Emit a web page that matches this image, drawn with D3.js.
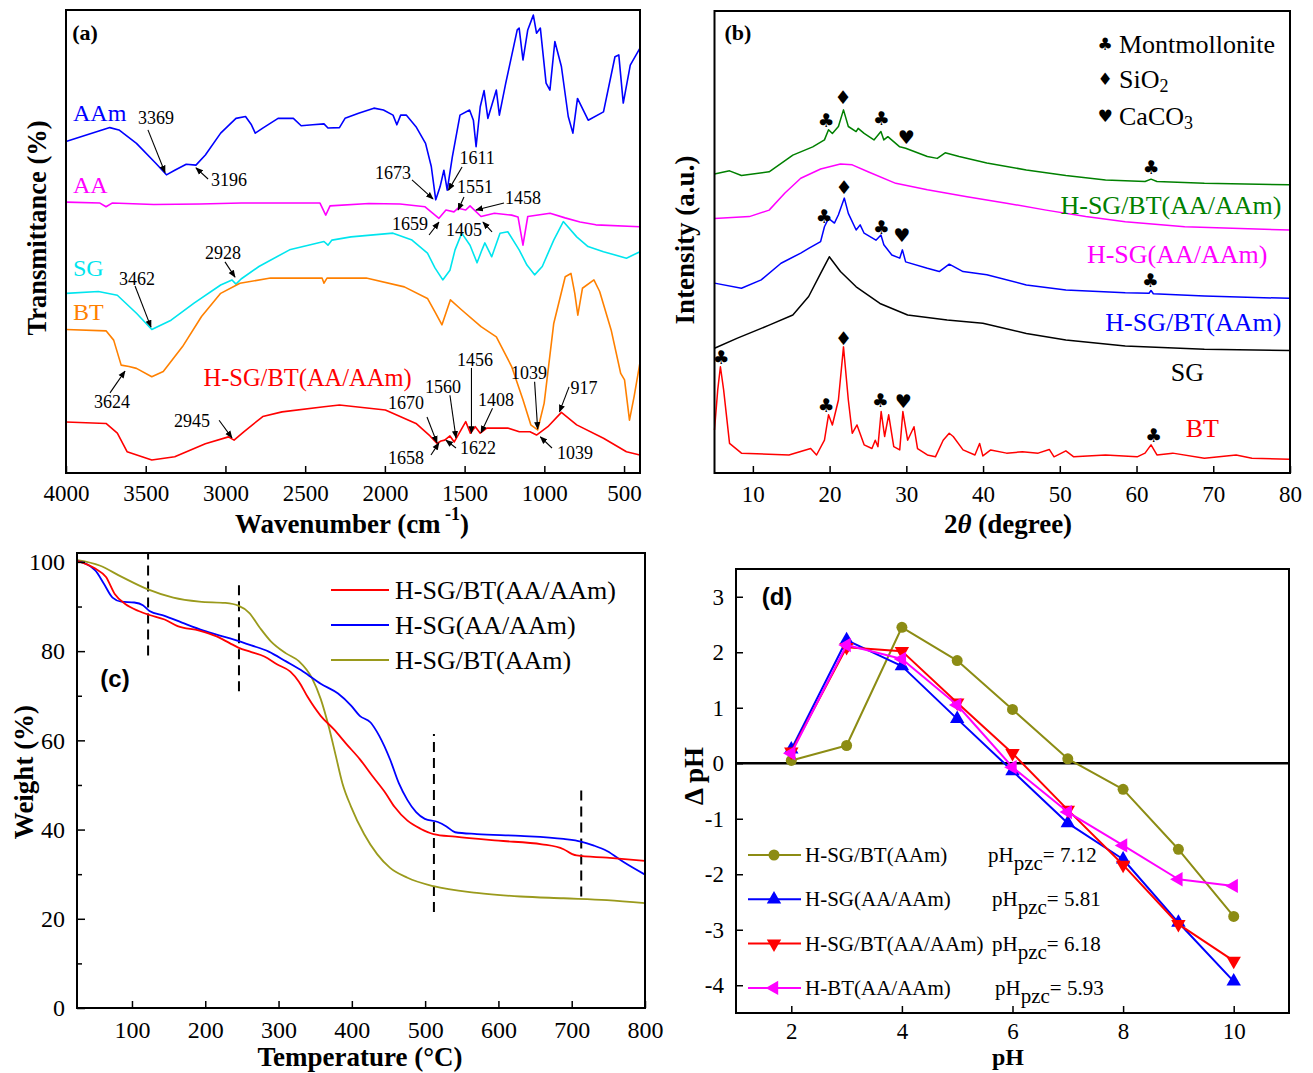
<!DOCTYPE html>
<html>
<head>
<meta charset="utf-8">
<script src="https://cdn.jsdelivr.net/npm/d3@7"></script>
<style>
body { margin: 0; background: #fff; }
svg text { font-family: "Liberation Serif", "Times New Roman", serif; fill: #000; }
</style>
</head>
<body>
<svg id="fig" width="1313" height="1073"></svg>
<script>
// ---------- (a) FTIR spectra: [wavenumber, transmittance (a.u.)] ----------
var ftirAAm = [[4000,71.6],[3725,74.6],[3668,74.1],[3558,71.2],[3437,66.9],[3370,64.4],[3318,65.4],[3246,66.7],[3185,66.5],[3126,68.7],[3030,73.4],[2934,76.6],[2874,77.0],[2837,75.2],[2813,73.4],[2766,74.5],[2670,76.6],[2574,76.6],[2525,75.0],[2453,75.2],[2382,75.4],[2357,74.5],[2285,74.6],[2250,76.6],[2165,77.7],[2069,78.8],[2009,78.4],[1949,77.3],[1925,75.2],[1901,77.3],[1866,77.3],[1805,74.8],[1745,71.2],[1709,66.2],[1681,59.0],[1654,61.8],[1630,65.4],[1609,61.1],[1577,68.3],[1529,77.3],[1469,78.4],[1445,76.2],[1428,70.5],[1402,79.1],[1378,82.6],[1354,76.6],[1301,82.7],[1282,77.3],[1242,84.2],[1170,95.7],[1158,96.1],[1134,89.2],[1104,95.7],[1069,98.9],[1049,95.0],[1025,96.1],[989,84.2],[965,82.7],[934,93.2],[893,87.8],[850,77.0],[821,73.4],[792,80.9],[725,76.2],[629,78.0],[557,89.9],[533,90.3],[505,79.9],[461,88.1],[401,91.7]];
var ftirAA = [[4000,58.5],[3787,58.3],[3749,57.5],[3711,58.3],[3450,58.0],[3160,58.1],[2900,58.3],[2595,58.3],[2407,58.3],[2371,55.7],[2344,57.7],[2100,58.2],[1905,58.1],[1748,57.5],[1661,55.0],[1617,56.8],[1567,56.4],[1541,57.2],[1493,56.8],[1466,57.7],[1397,55.4],[1313,56.1],[1205,55.7],[1165,55.3],[1134,49.2],[1104,55.4],[964,56.1],[870,55.1],[776,54.2],[677,53.6],[401,53.2]];
var ftirSG = [[4000,38.8],[3797,39.2],[3678,38.4],[3558,34.5],[3462,31.0],[3341,33.0],[3197,36.7],[3030,40.6],[2959,41.7],[2934,40.8],[2902,41.9],[2790,44.6],[2598,48.2],[2382,50.0],[2357,49.2],[2332,50.3],[2213,51.0],[1949,51.8],[1830,50.3],[1733,47.5],[1686,44.3],[1637,41.7],[1592,43.8],[1560,48.2],[1518,51.8],[1466,49.2],[1422,45.4],[1391,48.2],[1373,49.7],[1330,46.7],[1278,51.8],[1229,52.1],[1158,48.2],[1109,44.9],[1061,42.8],[1013,44.6],[941,50.3],[881,54.3],[797,51.0],[726,48.9],[629,47.8],[485,46.4],[400,47.8]];
var ftirBT = [[4000,31.0],[3749,30.7],[3701,28.7],[3654,23.3],[3605,23.0],[3558,22.6],[3462,20.8],[3390,21.9],[3269,27.3],[3150,33.8],[3030,38.8],[2909,41.0],[2717,42.1],[2394,42.1],[2382,41.0],[2363,42.1],[2117,42.1],[1878,40.2],[1733,37.7],[1686,34.8],[1642,32.0],[1589,37.4],[1518,35.2],[1397,31.6],[1301,29.4],[1205,23.0],[1134,15.8],[1085,10.4],[1042,9.3],[1001,15.1],[941,32.3],[869,42.4],[833,43.1],[809,38.8],[790,34.1],[761,39.9],[689,41.7],[653,39.2],[581,30.9],[521,21.5],[497,20.1],[466,11.4],[437,16.5],[401,23.7]];
var ftirGel = [[4000,11.0],[3749,10.7],[3678,8.6],[3617,4.6],[3462,2.8],[3318,3.5],[3126,6.3],[2981,7.8],[2946,7.1],[2885,8.9],[2766,12.2],[2645,13.2],[2382,14.3],[2285,14.7],[1997,13.6],[1805,10.7],[1717,8.0],[1673,6.4],[1648,6.9],[1625,7.1],[1592,8.0],[1565,6.7],[1541,8.2],[1493,11.1],[1464,8.6],[1433,10.0],[1402,8.6],[1361,9.7],[1229,9.7],[1157,8.9],[1090,8.9],[1049,8.2],[978,10.0],[893,13.1],[797,10.4],[629,7.5],[485,4.6],[401,3.9]];
var ftirTicks = [4000, 3500, 3000, 2500, 2000, 1500, 1000, 500];
// peak labels: text, label position, arrow tail, arrow tip (all wavenumber / a.u.)
var ftirPeaks = [
  ["3369", 3436, 76.7, 3486, 74.1, 3379, 64.9],
  ["3196", 2978, 63.3, 3109, 63.5, 3185, 65.9],
  ["1673", 1949, 64.8, 1830, 63.3, 1698, 59.2],
  ["1611", 1422, 68.0, 1516, 66.1, 1601, 61.1],
  ["1551", 1435, 61.8, 1504, 59.6, 1541, 56.8],
  ["1458", 1134, 59.4, 1253, 58.3, 1429, 56.8],
  ["1659", 1842, 53.8, 1723, 51.4, 1661, 54.2],
  ["1405", 1504, 52.5, 1328, 52.1, 1385, 54.2],
  ["2928", 3015, 47.5, 3003, 45.6, 2940, 42.3],
  ["3462", 3555, 41.9, 3567, 40.4, 3467, 31.5],
  ["3624", 3711, 15.3, 3724, 17.3, 3630, 22.0],
  ["2945", 3210, 11.2, 3040, 11.4, 2959, 7.6],
  ["1670", 1868, 15.1, 1736, 12.1, 1673, 6.5],
  ["1560", 1636, 18.6, 1592, 16.8, 1554, 7.6],
  ["1456", 1435, 24.4, 1457, 22.7, 1457, 8.6],
  ["1408", 1303, 15.8, 1325, 14.0, 1397, 8.7],
  ["1039", 1096, 21.6, 1061, 19.7, 1042, 9.5],
  ["917", 751, 18.4, 845, 18.6, 905, 13.2],
  ["1658", 1868, 3.2, 1711, 3.9, 1661, 6.5],
  ["1622", 1416, 5.4, 1554, 5.4, 1617, 7.1],
  ["1039", 808, 4.3, 952, 5.4, 1025, 7.8]
];

// ---------- (b) XRD patterns: [2theta, intensity (a.u.)] ----------
var xrdGel = [[5,64.7],[6.96,65.4],[8.51,64.4],[12.12,65.2],[15.21,68.8],[17.8,70.6],[19.33,72.1],[19.86,74.3],[20.36,73.5],[21.15,75.0],[21.81,78.6],[22.44,75.0],[23.46,73.9],[23.72,74.6],[24.5,73.5],[25.78,72.1],[26.69,73.9],[27.07,72.1],[27.59,72.8],[29.14,70.6],[29.91,70.3],[32.74,68.5],[34.03,68.1],[35.06,69.3],[36.88,68.5],[40.49,67.1],[45.64,65.6],[50.79,64.4],[55.96,63.4],[61.11,63.1],[61.89,63.6],[62.66,63.1],[68.84,62.7],[79.93,62.4]];
var xrdSGAA = [[5,55.1],[9.54,55.5],[12.12,56.9],[14.18,60.6],[16.24,63.8],[18.83,65.8],[21.41,66.9],[22.95,66.7],[25.01,65.2],[28.62,62.7],[32.74,61.3],[37.91,59.8],[43.06,58.4],[48.22,56.9],[53.38,55.5],[58.53,54.4],[66.28,53.3],[79.93,52.6]];
var xrdSGBTAAm = [[5,41.1],[8.51,40.0],[11.09,41.8],[13.67,45.4],[16.24,47.6],[17.27,48.6],[18.83,50.1],[19.33,53.3],[19.86,55.1],[20.63,54.1],[21.15,55.9],[21.92,59.5],[22.44,56.2],[23.46,52.6],[23.98,53.7],[24.5,51.9],[26.04,50.4],[26.69,51.5],[27.07,49.4],[28.11,47.2],[29.14,46.5],[29.49,48.3],[29.91,45.7],[32.74,44.3],[34.29,43.6],[35.59,45.2],[37.39,43.6],[40.49,42.9],[45.64,40.7],[50.79,39.6],[58.53,39.0],[61.63,38.9],[61.89,39.5],[62.19,38.8],[68.84,38.3],[79.93,37.8]];
var xrdSG = [[5,27.0],[7.99,29.2],[12.12,32.0],[15.21,34.2],[17.27,38.2],[18.83,43.2],[19.96,46.8],[21.41,43.6],[23.46,40.3],[26.56,36.7],[30.17,34.2],[35.32,33.1],[39.97,32.4],[45.64,30.2],[50.79,28.8],[58.53,27.5],[68.84,26.8],[79.93,26.5]];
var xrdBT = [[5,9.3],[5.42,18.0],[5.77,23.0],[6.19,18.0],[6.96,6.4],[8.51,4.3],[14.7,3.9],[17.53,5.3],[18.3,3.9],[19.33,7.1],[19.86,12.6],[20.36,10.4],[21.15,15.8],[21.81,27.3],[22.44,15.8],[22.95,8.6],[23.57,10.4],[24.5,6.1],[25.52,5.3],[25.95,7.1],[26.3,5.7],[26.72,13.3],[27.17,7.9],[27.7,12.6],[28.36,5.7],[29.14,5.0],[29.55,13.3],[30.17,7.1],[31.0,10.0],[31.46,5.3],[32.74,3.9],[33.79,3.5],[34.8,7.1],[35.59,8.6],[36.11,7.9],[37.39,5.0],[38.94,3.9],[39.55,6.4],[39.97,3.7],[41.0,5.0],[43.06,4.3],[45.12,4.6],[47.18,4.3],[48.63,5.1],[49.25,3.5],[50.79,4.8],[51.82,3.5],[55.96,3.9],[60.08,3.5],[61.11,4.3],[61.89,6.1],[62.66,3.9],[64.72,4.3],[68.84,3.2],[72.98,3.9],[75.04,3.2],[79.93,3.0]];
var xrdTicks = [10, 20, 30, 40, 50, 60, 70, 80];
// phase marks: symbol, 2theta, intensity
var xrdPhases = [
  ["♣",19.54,76.4],["♦",21.76,81.4],["♣",26.72,76.8],["♥",29.98,72.7],["♣",61.89,66.2],
  ["♣",19.28,55.6],["♦",21.89,61.9],["♣",26.72,53.3],["♥",29.39,51.5],["♣",61.8,41.8],
  ["♣",5.85,25.1],["♦",21.81,29.2],["♣",19.54,14.7],["♣",26.59,15.8],["♥",29.59,15.6],["♣",62.2,8.2]
];

// ---------- (c) TGA: [temperature, weight %] ----------
var tgaGel = [[26,100.2],[49.9,98.5],[64.6,96.6],[76.5,92.8],[91.3,90.5],[109,89.0],[123.8,88.1],[144.5,87.1],[162.3,85.6],[191.9,84.6],[215.5,83.3],[233.3,81.8],[245.1,80.8],[262.9,79.8],[280.6,78.8],[298.4,77.0],[316.1,75.4],[328,73.1],[339.8,69.7],[357.5,65.5],[375.3,62.5],[393,59.1],[410.8,55.8],[428.6,51.9],[446.3,48.1],[458.2,45.1],[475.9,42.0],[493.6,40.2],[511.4,39.0],[541,38.4],[600.1,37.5],[659.3,36.7],[688.9,35.6],[700.7,34.5],[706.7,34.2],[748.1,33.7],[800,33.0]];
var tgaSG = [[26,100.2],[49.9,98.1],[61.7,95.1],[73.5,92.0],[85.4,91.1],[103.1,90.9],[114.9,90.3],[123.8,89.0],[144.5,87.9],[168.2,86.4],[197.8,84.6],[215.5,83.7],[239.2,82.6],[262.9,81.3],[286.6,79.9],[310.2,77.7],[333.9,75.4],[357.5,72.7],[381.2,70.5],[399,67.8],[410.8,65.5],[425.6,64.0],[437.4,61.0],[452.2,55.7],[464.1,50.4],[475.9,46.6],[487.7,43.9],[499.6,42.4],[517.3,41.7],[529.1,40.7],[540.9,39.4],[570.6,39.0],[630.1,38.6],[688.9,37.9],[712.6,37.3],[730.4,36.4],[748.1,35.2],[771.8,32.6],[800,29.9]];
var tgaBT = [[26,100.4],[55.8,99.2],[85.4,96.7],[120.9,93.9],[156.4,92.0],[191.9,91.1],[227.4,90.8],[245.1,90.2],[259.9,88.6],[274.7,85.2],[289.5,82.2],[310.2,79.5],[328,77.7],[345.8,73.9],[357.5,69.3],[369.4,62.5],[378.3,56.4],[387.1,50.4],[399,45.1],[416.7,39.0],[434.5,34.5],[452.2,31.4],[475.9,29.2],[511.4,27.3],[570.6,25.8],[630.1,25.0],[688.9,24.6],[748.1,24.2],[800,23.5]];
var tgaStages = [[122, 79, 102], [246, 71, 95.3], [512, 21.5, 61.4], [713, 25, 49]];
var tgaXTicks = [100, 200, 300, 400, 500, 600, 700, 800];
var tgaYTicks = [0, 20, 40, 60, 80, 100];

// ---------- (d) point of zero charge ----------
var pHValues = [2, 3, 4, 5, 6, 7, 8, 9, 10];
var dpH_SGBT_AAm = [0.05, 0.32, 2.45, 1.85, 0.97, 0.08, -0.47, -1.55, -2.76];
var dpH_SG_AA = [0.25, 2.22, 1.75, 0.80, -0.14, -1.08, -1.73, -2.87, -3.93];
var dpH_SGBT_AA = [0.21, 2.09, 2.02, 1.09, 0.18, -0.84, -1.83, -2.90, -3.56];
var dpH_BT_AA = [0.18, 2.13, 1.88, 1.05, -0.07, -0.88, -1.48, -2.09, -2.21];
var pzcNames = ["H-SG/BT(AAm)", "H-SG(AA/AAm)", "H-SG/BT(AA/AAm)", "H-BT(AA/AAm)"];
var pzcValues = ["7.12", "5.81", "6.18", "5.93"];
var pzcXTicks = [2, 4, 6, 8, 10];
var pzcYTicks = [-4, -3, -2, -1, 0, 1, 2, 3];

var svg = d3.select('#fig');
svg.append('rect').attr('width', 1313).attr('height', 1073).attr('fill', '#fff');
svg.append('defs').append('marker')
  .attr('id', 'ah').attr('viewBox', '0 0 10 10').attr('refX', 9).attr('refY', 5)
  .attr('markerWidth', 7).attr('markerHeight', 7).attr('orient', 'auto')
  .append('path').attr('d', 'M0,1L10,5L0,9z').attr('fill', '#000');

function frame(x, y){
  var r = x.range(), s = y.range();
  svg.append('rect').attr('x', Math.min(r[0], r[1])).attr('y', Math.min(s[0], s[1]))
    .attr('width', Math.abs(r[1] - r[0])).attr('height', Math.abs(s[1] - s[0]))
    .attr('fill', 'none').attr('stroke', '#000').attr('stroke-width', 2);
}
function styleAxis(fs){
  return function(g){
    g.select('.domain').remove();
    g.selectAll('.tick line').attr('stroke', '#000').attr('stroke-width', 1.5);
    g.selectAll('.tick text').attr('font-size', fs).attr('fill', '#000');
  };
}
function bottomAxis(x, y, ticks, pad, fs){
  svg.append('g').attr('transform', 'translate(0,' + y.range()[0] + ')')
    .call(d3.axisBottom(x).tickValues(ticks).tickFormat(function(d){ return String(d); })
      .tickSizeInner(-7).tickSizeOuter(0).tickPadding(pad))
    .call(styleAxis(fs));
}
function leftAxis(x, y, ticks, pad, size, fs){
  svg.append('g').attr('transform', 'translate(' + x.range()[0] + ',0)')
    .call(d3.axisLeft(y).tickValues(ticks).tickFormat(function(d){ return String(d); })
      .tickSizeInner(-size).tickSizeOuter(0).tickPadding(pad))
    .call(styleAxis(fs));
}
function curve(x, y, data, color, w, c){
  var line = d3.line().x(function(d){ return x(d[0]); }).y(function(d){ return y(d[1]); });
  if (c) line.curve(c);
  svg.append('path').datum(data).attr('d', line).attr('fill', 'none')
    .attr('stroke', color).attr('stroke-width', w).attr('stroke-linejoin', 'round');
}
function label(x, y, txt, opts){
  var t = svg.append('text').attr('x', x).attr('y', y).attr('font-size', opts.size || 22)
    .attr('text-anchor', opts.anchor || 'start').attr('dominant-baseline', 'central').text(txt);
  if (opts.bold) t.attr('font-weight', 'bold');
  if (opts.color) t.style('fill', opts.color);
  if (opts.sans) t.style('font-family', '"Liberation Sans", Arial, sans-serif');
  if (opts.rotate) t.attr('transform', 'rotate(-90,' + x + ',' + y + ')');
  return t;
}

// ================= (a) =================
var xa = d3.scaleLinear().domain([4000, 400]).range([66, 640]);
var ya = d3.scaleLinear().domain([0, 100]).range([473, 10]);
curve(xa, ya, ftirAAm, '#0000ff', 1.6);
curve(xa, ya, ftirAA, '#ff00ff', 1.6);
curve(xa, ya, ftirSG, '#00e5ee', 1.6);
curve(xa, ya, ftirBT, '#ff8000', 1.6);
curve(xa, ya, ftirGel, '#ff0000', 1.6);
ftirPeaks.forEach(function(p){
  svg.append('line').attr('x1', xa(p[3])).attr('y1', ya(p[4])).attr('x2', xa(p[5])).attr('y2', ya(p[6]))
    .attr('stroke', '#000').attr('stroke-width', 1.1).attr('marker-end', 'url(#ah)');
  label(xa(p[1]), ya(p[2]), p[0], {size: 18, anchor: 'middle'});
});
label(xa(3956), ya(77.8), 'AAm', {size: 24, color: '#0000ff'});
label(xa(3956), ya(62.2), 'AA', {size: 24, color: '#ff00ff'});
label(xa(3956), ya(44.3), 'SG', {size: 24, color: '#00e5ee'});
label(xa(3956), ya(34.8), 'BT', {size: 24, color: '#ff8000'});
label(xa(3138), ya(20.7), 'H-SG/BT(AA/AAm)', {size: 24.5, color: '#ff0000'});
frame(xa, ya);
bottomAxis(xa, ya, ftirTicks, 12, 23);
label(85, 32, '(a)', {size: 22, bold: true, anchor: 'middle'});
var ta = label(352, 524, 'Wavenumber (cm', {size: 27, bold: true, anchor: 'middle'});
ta.append('tspan').attr('font-size', 18).attr('dy', -10).text(' -1');
ta.append('tspan').attr('dy', 10).text(')');
label(37, 228, 'Transmittance (%)', {size: 26.5, bold: true, anchor: 'middle', rotate: true});

// ================= (b) =================
var xb = d3.scaleLinear().domain([5, 80]).range([714.5, 1290]);
var yb = d3.scaleLinear().domain([0, 100]).range([473, 11]);
curve(xb, yb, xrdGel, '#008000', 1.5);
curve(xb, yb, xrdSGAA, '#ff00ff', 1.5);
curve(xb, yb, xrdSGBTAAm, '#0000ff', 1.5);
curve(xb, yb, xrdSG, '#000000', 1.5);
curve(xb, yb, xrdBT, '#ff0000', 1.5);
xrdPhases.forEach(function(p){
  label(xb(p[1]), yb(p[2]), p[0], {size: 19, anchor: 'middle'}).style('font-family', '"DejaVu Sans", sans-serif');
});
[['♣', 'Montmollonite', 44, ''], ['♦', 'SiO', 79, '2'], ['♥', 'CaCO', 116, '3']].forEach(function(r){
  label(1105, r[2], r[0], {size: 17, anchor: 'middle'}).style('font-family', '"DejaVu Sans", sans-serif');
  var t = label(1119, r[2], r[1], {size: 26});
  if (r[3]) t.append('tspan').attr('font-size', 18).attr('dy', 7).text(r[3]);
});
label(xb(78.89), yb(58.0), 'H-SG/BT(AA/AAm)', {size: 26, anchor: 'end', color: '#008000'});
label(xb(77.06), yb(47.2), 'H-SG(AA/AAm)', {size: 26, anchor: 'end', color: '#ff00ff'});
label(xb(78.89), yb(32.5), 'H-SG/BT(AAm)', {size: 26, anchor: 'end', color: '#0000ff'});
label(xb(66.63), yb(21.7), 'SG', {size: 26, anchor: 'middle'});
label(xb(68.58), yb(9.7), 'BT', {size: 26, anchor: 'middle', color: '#ff0000'});
frame(xb, yb);
bottomAxis(xb, yb, xrdTicks, 13, 23);
label(738, 32, '(b)', {size: 22, bold: true, anchor: 'middle'});
var tb = label(1008, 524, '2', {size: 27, bold: true, anchor: 'middle'});
tb.append('tspan').attr('font-style', 'italic').text('θ');
tb.append('tspan').text(' (degree)');
label(685, 240, 'Intensity (a.u.)', {size: 27, bold: true, anchor: 'middle', rotate: true});

// ================= (c) =================
var xc = d3.scaleLinear().domain([25, 800]).range([77, 645]);
var yc = d3.scaleLinear().domain([0, 102]).range([1008, 553]);
tgaStages.forEach(function(s){
  svg.append('line').attr('x1', xc(s[0])).attr('x2', xc(s[0])).attr('y1', yc(s[1])).attr('y2', yc(s[2]))
    .attr('stroke', '#000').attr('stroke-width', 2).attr('stroke-dasharray', '10,6');
});
curve(xc, yc, tgaBT, '#9a9a1c', 1.8, d3.curveMonotoneX);
curve(xc, yc, tgaSG, '#0000ff', 1.8, d3.curveMonotoneX);
curve(xc, yc, tgaGel, '#ff0000', 1.8, d3.curveMonotoneX);
frame(xc, yc);
bottomAxis(xc, yc, tgaXTicks, 13, 24);
leftAxis(xc, yc, tgaYTicks, 12, 8, 24);
svg.append('g').attr('transform', 'translate(' + xc.range()[0] + ',0)')
  .call(d3.axisLeft(yc).tickValues([10, 30, 50, 70, 90]).tickFormat('').tickSizeInner(-5).tickSizeOuter(0))
  .call(styleAxis(24));
[['H-SG/BT(AA/AAm)', '#ff0000'], ['H-SG(AA/AAm)', '#0000ff'], ['H-SG/BT(AAm)', '#9a9a1c']].forEach(function(r, i){
  var yy = 590 + i * 35;
  svg.append('line').attr('x1', 331).attr('x2', 389).attr('y1', yy).attr('y2', yy)
    .attr('stroke', r[1]).attr('stroke-width', 2);
  label(395, yy, r[0], {size: 26});
});
label(115, 678, '(c)', {size: 24, bold: true, anchor: 'middle', sans: true});
label(360, 1057, 'Temperature (°C)', {size: 27, bold: true, anchor: 'middle'});
label(24, 772, 'Weight (%)', {size: 27, bold: true, anchor: 'middle', rotate: true});

// ================= (d) =================
var xd = d3.scaleLinear().domain([1, 11]).range([736, 1289]);
var yd = d3.scaleLinear().domain([-4.5, 3.5]).range([1013, 569]);
svg.append('line').attr('x1', xd(1)).attr('x2', xd(11)).attr('y1', yd(0)).attr('y2', yd(0))
  .attr('stroke', '#000').attr('stroke-width', 2.5);
var pzcSeries = [
  [dpH_SGBT_AAm, '#8c8c14', d3.symbolCircle, 0, 95],
  [dpH_SG_AA, '#0000ff', d3.symbolTriangle, 0, 90],
  [dpH_SGBT_AA, '#ff0000', d3.symbolTriangle, 180, 90],
  [dpH_BT_AA, '#ff00ff', d3.symbolTriangle, -90, 90]
];
pzcSeries.forEach(function(s){
  var pts = pHValues.map(function(p, i){ return [p, s[0][i]]; });
  curve(xd, yd, pts, s[1], 2);
  svg.selectAll(null).data(pts).enter().append('path')
    .attr('d', d3.symbol(s[2], s[4]))
    .attr('transform', function(d){ return 'translate(' + xd(d[0]) + ',' + yd(d[1]) + ') rotate(' + s[3] + ')'; })
    .attr('fill', s[1]);
});
pzcSeries.forEach(function(s, i){
  var yy = 855 + i * 44.3;
  svg.append('line').attr('x1', 748).attr('x2', 801).attr('y1', yy).attr('y2', yy)
    .attr('stroke', s[1]).attr('stroke-width', 2);
  svg.append('path').attr('d', d3.symbol(s[2], s[4]))
    .attr('transform', 'translate(774,' + yy + ') rotate(' + s[3] + ')').attr('fill', s[1]);
  label(805, yy, pzcNames[i], {size: 21});
  var t = label([988, 992, 992, 995][i], yy, 'pH', {size: 21});
  t.append('tspan').attr('dy', 8).text('pzc');
  t.append('tspan').attr('dy', -8).text('= ' + pzcValues[i]);
});
frame(xd, yd);
bottomAxis(xd, yd, pzcXTicks, 10, 23);
leftAxis(xd, yd, pzcYTicks, 12, 7, 23);
label(777, 596, '(d)', {size: 24, bold: true, anchor: 'middle', sans: true});
label(1008, 1057, 'pH', {size: 24, bold: true, anchor: 'middle'});
label(694, 776, 'Δ pH', {size: 27, bold: true, anchor: 'middle', rotate: true});
</script>
</body>
</html>
